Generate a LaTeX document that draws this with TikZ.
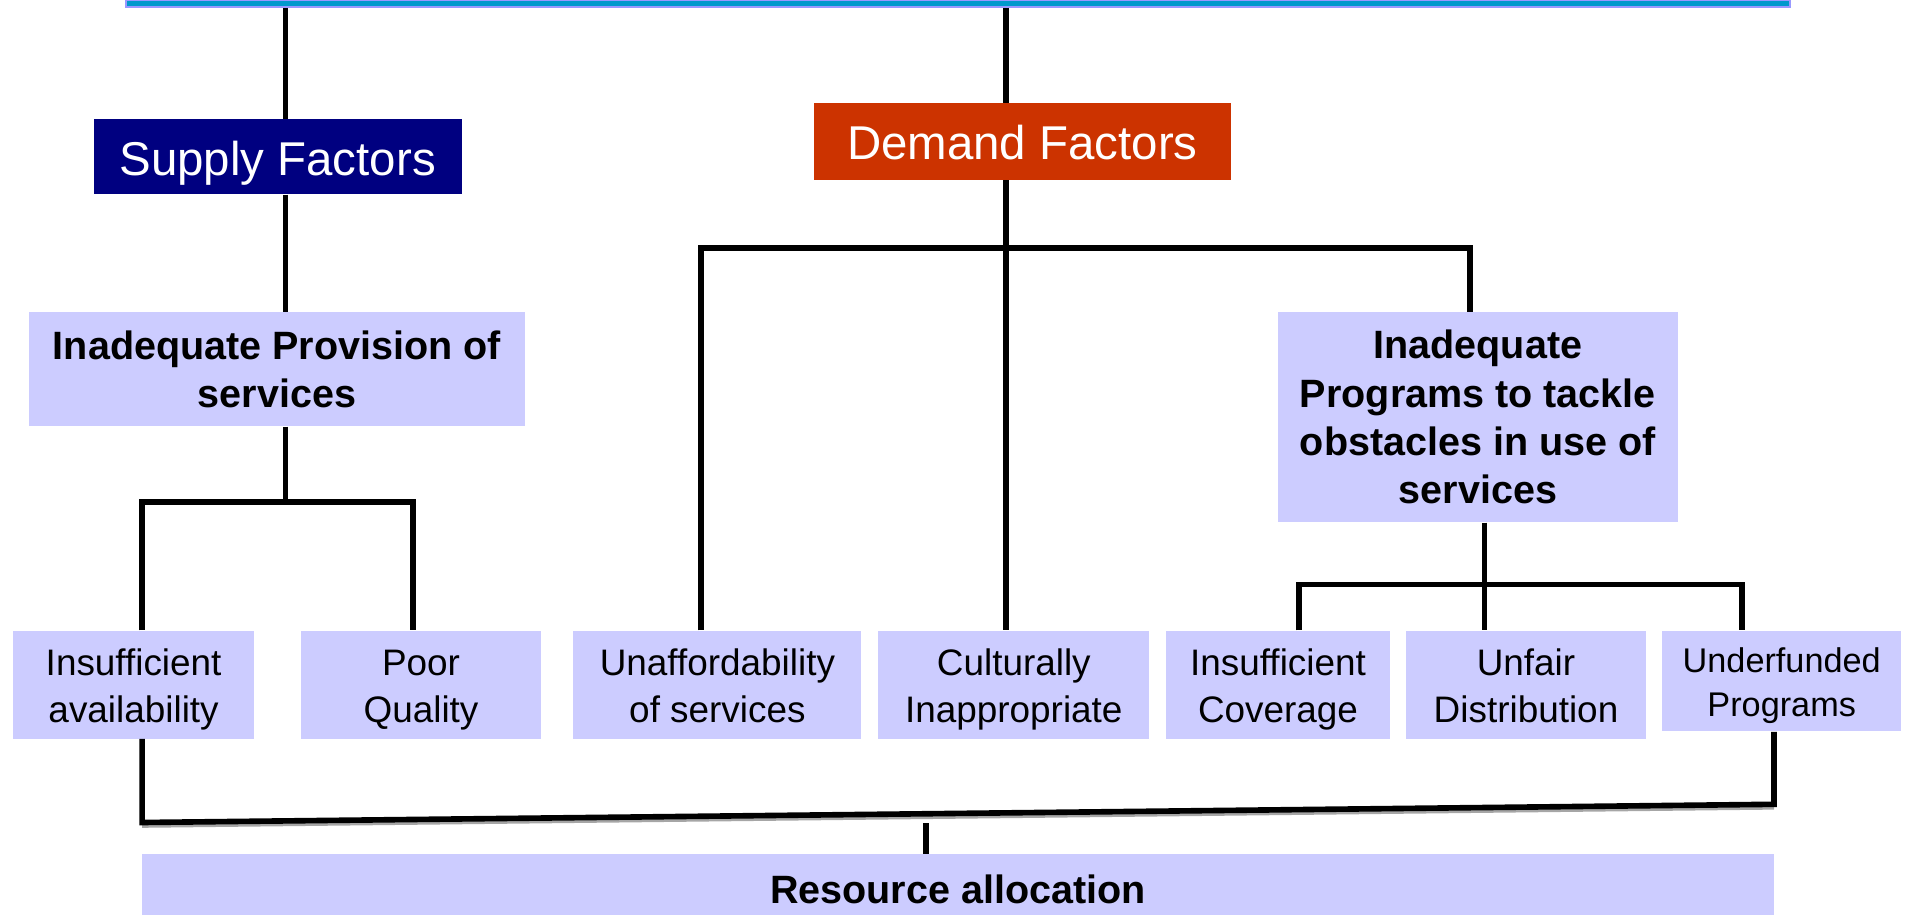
\documentclass[tikz,border=0pt]{standalone}
\usepackage{fontspec}
\setmainfont{Liberation Sans}
\usepackage{xcolor}
\definecolor{lav}{HTML}{CCCCFF}
\definecolor{navy}{HTML}{000080}
\definecolor{rust}{HTML}{CC3300}
\definecolor{topblue}{HTML}{0099CC}
\definecolor{topedge}{HTML}{9999FF}
\newcommand{\cellstrut}{\vrule width 0pt height 1em depth 0.22em}
\newcommand{\twolines}[2]{\cellstrut#1\\#2\cellstrut}
\tikzset{
    cell/.style={fill=lav, align=center, inner sep=0pt, text=black},
    box/.style={cell, font=\fontsize{21pt}{25.4pt}\selectfont},
    smallbox/.style={cell, font=\fontsize{19.5pt}{23pt}\selectfont},
    boldbox/.style={cell, font=\fontsize{22.5pt}{27.5pt}\selectfont\bfseries},
    head/.style={inner sep=0pt, text=white,
        text height=27pt, text depth=6pt,
        font=\fontsize{27pt}{32pt}\selectfont},
    link/.style={line width=3.2pt, black},
}
\begin{document}
\begin{tikzpicture}[x=0.02cm, y=-0.02cm]
        \useasboundingbox (0,0) rectangle (1905,915);
        \clip (0,0) rectangle (1905,915);
        % top bar and the two factor heads
        \node[fill=topblue, draw=topedge, line width=1pt, minimum width=33.3cm, minimum height=0.14cm, inner sep=0pt](T) at (958,3.5) {};
        \node[head, fill=navy, minimum width=7.36cm, minimum height=1.5cm](SF) at (277.6,156.7) {Supply Factors};
        \node[head, fill=rust, minimum width=8.33cm, minimum height=1.53cm](DF) at (1022.4,141.5) {Demand Factors};
        % middle level
        \node[boldbox, minimum width=9.91cm, minimum height=2.28cm](IPS) at (277,369.3) {Inadequate Provision of\\services};
        \node[boldbox, minimum width=8.0cm, minimum height=4.2cm](IPP) at (1477.9,417.3) {Inadequate\\Programs to tackle\\obstacles in use of\\services};
        % bottom level
        \node[box, minimum width=4.81cm, minimum height=2.16cm](IA) at (133.6,684.6) {\twolines{Insufficient}{availability}};
        \node[box, minimum width=4.79cm, minimum height=2.16cm](PQ) at (421,684.6) {\twolines{Poor}{Quality}};
        \node[box, minimum width=5.76cm, minimum height=2.16cm](UA) at (717.4,684.6) {\twolines{Unaffordability}{of services}};
        \node[box, minimum width=5.42cm, minimum height=2.16cm](CI) at (1013.8,684.6) {\twolines{Culturally}{Inappropriate}};
        \node[box, minimum width=4.47cm, minimum height=2.16cm](IC) at (1278,684.6) {\twolines{Insufficient}{Coverage}};
        \node[box, minimum width=4.81cm, minimum height=2.16cm](UD) at (1526,684.6) {\twolines{Unfair}{Distribution}};
        \node[smallbox, minimum width=4.79cm, minimum height=2.02cm](UP) at (1781.7,681) {\twolines{Underfunded}{Programs}};
        \node[boldbox, minimum width=32.64cm, minimum height=1.4cm](RA) at (958,889) {Resource allocation};

        % columns and levels of the connectors
        \coordinate (xs) at (285.5,0);
        \coordinate (xd) at (1006,0);
        \coordinate (xia) at (142.1,0);
        \coordinate (xpq) at (413.1,0);
        \coordinate (xua) at (701,0);
        \coordinate (xipp) at (1470,0);
        \coordinate (xud) at (1484.6,0);
        \coordinate (xic) at (1298.7,0);
        \coordinate (xup) at (1742.2,0);
        \coordinate (xupb) at (1774,0);
        \coordinate (y1) at (0,501.8);
        \coordinate (y2) at (0,247.8);
        \coordinate (y3) at (0,584.4);
        \coordinate (jl) at (142.1,822.5);
        \coordinate (jr) at (1774,804.3);
        \coordinate (jm) at (926,823);

        % supply side
        \draw[link] (T.south -| xs) -- (SF.north -| xs);
        \draw[link] (SF.south -| xs) -- (IPS.north -| xs);
        \draw[link] (IPS.south -| xs) -- (xs |- y1);
        \draw[link] (IA.north -| xia) -- (xia |- y1) -- (xpq |- y1) -- (PQ.north -| xpq);
        % demand side
        \draw[link] (T.south -| xd) -- (DF.north -| xd);
        \draw[link] (DF.south -| xd) -- (CI.north -| xd);
        \draw[link] (UA.north -| xua) -- (xua |- y2) -- (xipp |- y2) -- (IPP.north -| xipp);
        \draw[link] (IPP.south -| xud) -- (UD.north -| xud);
        \draw[link] (IC.north -| xic) -- (xic |- y3) -- (xup |- y3) -- (UP.north -| xup);
        % joining line to resource allocation
        \draw[line width=3.2pt, black!35, transform canvas={yshift=-0.05cm}] (jl) -- (jr);
        \draw[link] (IA.south -| xia) -- (jl) -- (jr) -- (UP.south -| xupb);
        \draw[link] (jm) -- (RA.north -| jm);
    \end{tikzpicture}
\end{document}
